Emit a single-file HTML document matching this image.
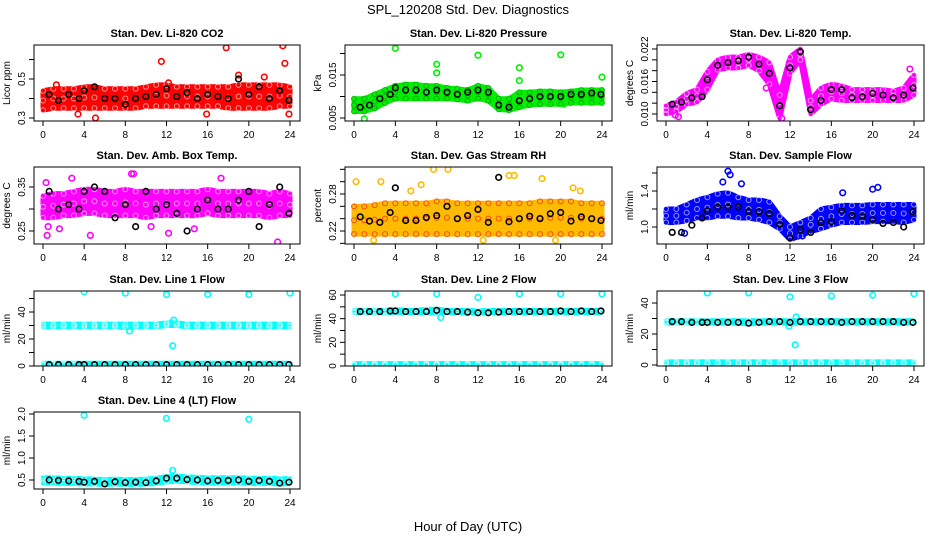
<!DOCTYPE html>
<html><head><meta charset="utf-8">
<style>
html,body{margin:0;padding:0;background:#fff;}
svg{display:block;font-family:"Liberation Sans",sans-serif;}
</style></head>
<body>
<svg id="chart" width="936" height="540" viewBox="0 0 936 540" xmlns="http://www.w3.org/2000/svg">
<text x="468" y="14" text-anchor="middle" font-size="13">SPL_120208  Std. Dev. Diagnostics</text>
<text x="468" y="531" text-anchor="middle" font-size="13">Hour of Day (UTC)</text>
</svg>
<script>
// shared hours
const bandHours = [0,1,2,3,4,5,6,7,8,9,10,11,12,13,14,15,16,17,18,19,20,21,22,23,24];
const blackHours = [0.6,1.5,2.5,3.5,4,5,6,7,8,9,10,11,12,13,14,15,16,17,18,19,20,21,22,23,23.9];
const xTicks = [0,4,8,12,16,20,24];

// CO2
const co2Lo = [.34,.35,.35,.35,.35,.35,.35,.35,.35,.35,.36,.36,.36,.36,.36,.36,.36,.36,.35,.35,.35,.35,.35,.36,.36];
const co2Hi = [.44,.45,.45,.45,.46,.46,.45,.45,.45,.45,.46,.47,.47,.46,.46,.46,.46,.46,.46,.47,.47,.47,.47,.47,.46];
const co2Black = [.42,.39,.42,.40,.44,.46,.40,.40,.37,.40,.41,.42,.45,.41,.43,.40,.42,.41,.40,.50,.42,.46,.40,.44,.39];
const co2OutX = [17.8,23.3,23.5,11.5,5.1,3.4,15.9,23.9,1.3,19,21.5,12.2];
const co2OutY = [.66,.67,.58,.59,.30,.32,.32,.32,.47,.52,.51,.48];
// Pressure
const presLo = [.0065,.0065,.0072,.0085,.0095,.0095,.0095,.0095,.0095,.0095,.0093,.009,.0095,.009,.007,.0068,.0075,.008,.0082,.0082,.0082,.0085,.0085,.0085,.0085];
const presHi = [.0095,.0095,.0105,.0115,.0125,.0128,.0128,.0125,.0125,.012,.0118,.0115,.0125,.012,.0095,.0095,.011,.011,.0112,.0112,.011,.0112,.0115,.0115,.0115];
const presBlack = [.0075,.008,.0095,.0105,.012,.0115,.0115,.011,.0115,.011,.0105,.011,.0115,.011,.008,.0075,.009,.0095,.010,.010,.010,.0105,.0105,.0108,.0105];
const presOutX = [4,8,8,12,20,16,1,24,16,20.3];
const presOutY = [.0212,.0175,.0155,.0196,.0197,.0167,.0048,.0145,.0137,.0082];
// Li-820 Temp
const tempLo = [.010,.0105,.0118,.0122,.0145,.0182,.0185,.0185,.019,.018,.0155,.0092,.0175,.020,.0100,.0118,.0128,.0125,.0125,.0125,.0125,.0125,.0125,.0125,.0135];
const tempHi = [.0115,.0122,.0138,.0145,.0178,.020,.0205,.0205,.021,.0205,.0195,.0135,.0205,.022,.0125,.0148,.0155,.0152,.0145,.0145,.0145,.0145,.0142,.0148,.0172];
const tempBlack = [.0118,.0122,.013,.0132,.0163,.019,.0195,.0198,.0205,.0192,.0175,.0115,.0185,.0215,.0108,.0125,.0145,.0145,.013,.0132,.0138,.0135,.013,.0135,.0148];
const tempOutX = [1.2,11.2,9.7,23.6,0.9];
const tempOutY = [.0095,.0092,.0148,.0183,.0098];
// Amb box temp
const ambLo = [.28,.28,.285,.285,.29,.29,.285,.285,.285,.285,.28,.285,.285,.285,.285,.285,.29,.285,.285,.285,.285,.285,.28,.285,.285];
const ambHi = [.33,.335,.335,.34,.345,.345,.34,.34,.345,.34,.34,.34,.34,.34,.34,.34,.345,.34,.34,.34,.34,.34,.335,.34,.335];
const ambBlack = [.34,.30,.31,.30,.34,.35,.34,.28,.31,.26,.34,.30,.31,.29,.25,.30,.32,.30,.30,.32,.34,.26,.31,.35,.29];
const ambOutX = [0.3,0.5,0.4,2.8,4.6,8.6,8.8,12.2,14.7,22.8,1.6,17.3,10.5];
const ambOutY = [.36,.26,.24,.37,.24,.38,.38,.245,.255,.225,.255,.37,.26];
// Gas stream RH
const rhLo = [.215,.215,.215,.215,.215,.215,.215,.215,.215,.215,.215,.215,.215,.215,.215,.215,.215,.215,.215,.215,.215,.215,.215,.215,.215];
const rhHi = [.26,.26,.262,.265,.265,.265,.265,.265,.268,.268,.265,.265,.265,.265,.265,.265,.265,.265,.268,.268,.268,.268,.265,.265,.265];
const rhBlack = [.243,.236,.234,.25,.29,.237,.237,.242,.245,.26,.24,.245,.255,.234,.307,.235,.24,.244,.24,.248,.25,.236,.243,.24,.237];
const rhOutX = [0.2,2.6,5.5,6.5,7.7,9.1,15,15.5,18.2,21.2,21.9,1.9,12.5,19.5];
const rhOutY = [.30,.30,.285,.295,.32,.32,.31,.31,.305,.29,.285,.205,.205,.205];
// Sample flow
const flowLo = [1.05,1.05,1.07,1.1,1.1,1.12,1.12,1.1,1.1,1.08,1.05,.98,.86,.9,.95,.98,1.02,1.05,1.05,1.05,1.06,1.06,1.06,1.05,1.08];
const flowHi = [1.2,1.2,1.25,1.3,1.33,1.37,1.38,1.33,1.3,1.3,1.28,1.12,1.0,1.05,1.1,1.2,1.22,1.24,1.24,1.24,1.25,1.25,1.25,1.25,1.25];
const flowBlack = [.94,.94,1.02,1.10,1.18,1.22,1.22,1.22,1.17,1.17,1.15,1.03,.88,.97,.94,1.05,1.06,1.18,1.13,1.12,1.08,1.04,1.05,1.00,1.17];
const flowOutX = [6,6.2,5.5,7.3,12.8,20,20.5,17.1,1.8,13.2];
const flowOutY = [1.62,1.58,1.5,1.48,.9,1.42,1.44,1.38,.93,.9];
// Line 1
const l1Lo = [29,29,29,29,29,29,29,29,28.5,29,29,29,30,30,29,29,29,29,29,29,29,29,29,29,29];
const l1Hi = [31,31,31,31,31,31,31,31,31,31,31,31,32,32,31,31,31,31,31,31,31,31,31,31,31];
const l1Black = [1,1,1,1,1,1,1,1,1,1,1,1,1,1,1,1,1,1,1,1,1,1,1,1,1];
const l1OutX = [4,8,12,16,20,24,12.6,12.7,8.4];
const l1OutY = [55,54,53,53,53,54,15,34,26];
// Line 2
const l2Lo = [45,45,45,45,45.5,45,45,45,45,45,45,45,44.5,45,45,45,45,45,45,45,45,45,45,45,45];
const l2Hi = [47,47,47,47,47.5,47,47,48,48,47,47,47,46.5,47,47,47,47,47,47,47,47,47,47,47,47];
const l2Black = [46,46,46,46.5,46.5,46,46,46,47,46,46,45.5,45,45,45.5,46,46,46,46,46,46.5,46,46.5,46,46.5];
const l2OutX = [4,8,12,16,20,24,8.4];
const l2OutY = [61,61,58,61,61,61,41];
// Line 3
const l3Lo = [27,27,27,27,27,27,27,27,26.5,27,27,27,27,27,27,27,27,27,27,27,27,27,27,27,27];
const l3Hi = [28.5,28.5,28.5,28.5,28.5,28.5,28.5,28.5,28.5,28.5,28.5,28.5,28.5,28.5,28.5,28.5,28.5,28.5,28.5,28.5,28.5,28.5,28.5,28.5,28.5];
const l3Black = [28,28,27.5,27.5,27.5,27.5,27.5,27.5,27,27.5,28,28,27.5,28,28,28,28,27.5,28,28,28,28,28,27.5,27.5];
const l3OutX = [4,8,12,16,20,24,12.5,12.6,11.9];
const l3OutY = [46.5,46.5,44,44.5,45,46,13,31,25];
// Line 4
const l4Lo = [.43,.43,.42,.42,.41,.41,.40,.41,.40,.40,.41,.42,.46,.47,.46,.44,.43,.43,.43,.43,.42,.42,.42,.41,.42];
const l4Hi = [.55,.55,.54,.54,.53,.52,.51,.52,.51,.51,.52,.54,.58,.59,.57,.56,.55,.55,.55,.55,.54,.54,.54,.53,.53];
const l4Black = [.5,.49,.48,.47,.45,.47,.41,.46,.44,.45,.44,.48,.54,.54,.51,.5,.48,.49,.49,.5,.47,.49,.47,.43,.45];
const l4OutX = [4,12,20,12.6];
const l4OutY = [1.97,1.9,1.88,.72];

const NS = "http://www.w3.org/2000/svg";
const svg = document.getElementById('chart');
function mk(tag, attrs, parent){const e=document.createElementNS(NS,tag);for(const k in attrs)e.setAttribute(k,attrs[k]);(parent||svg).appendChild(e);return e;}

const cols=[[34,300],[345,612],[657,924]];
const rows=[[45,121],[167,244],[291,366],[412,489]];

function panel(o){
  const [L,R]=cols[o.col],[T,B]=rows[o.row];
  const g=mk('g',{});
  
  
  const xs=h=>L+9+h*(R-L-19)/24;
  const ys=v=>o.p0+(v-o.v0)*(o.p1-o.p0)/(o.v1-o.v0);
  const cid='clip-'+o.name;
  const cp=mk('clipPath',{id:cid},g);mk('rect',{x:L,y:T,width:R-L,height:B-T},cp);
  const plot=mk('g',{'clip-path':'url(#'+cid+')'},g);
  function band(lo,hi,col){
    let pts=[];
    bandHours.forEach((h,i)=>pts.push(xs(h).toFixed(1)+','+ys(hi[i]).toFixed(1)));
    for(let i=bandHours.length-1;i>=0;i--)pts.push(xs(bandHours[i]).toFixed(1)+','+ys(lo[i]).toFixed(1));
    const p=mk('polygon',{points:pts.join(' '),fill:col,stroke:col,'stroke-width':5,'stroke-linejoin':'round'},plot);
    
    
    bandHours.forEach((h,i)=>{
      [lo[i],hi[i],(lo[i]+hi[i])/2].forEach(v=>{
        const c=mk('circle',{cx:xs(h),cy:ys(v),r:2.5,fill:'none',stroke:o.tex||'#fff','stroke-width':1,opacity:0.6},plot);
        
        
      });
    });
  }
  band(o.lo,o.hi,o.color);
  if(o.lo2) band(o.lo2,o.hi2,o.color);
  o.outX.forEach((h,i)=>{
    const c=mk('circle',{cx:xs(h),cy:ys(o.outY[i]),r:2.8,fill:'none',stroke:o.color,'stroke-width':1.6},plot);
    
    
  });
  blackHours.forEach((h,i)=>{
    const c=mk('circle',{cx:xs(h),cy:ys(o.black[i]),r:2.8,fill:'none',stroke:'#000','stroke-width':1.6},plot);
    
    
  });
  const box=mk('rect',{x:L,y:T,width:R-L,height:B-T,fill:'none',stroke:'#000','stroke-width':1},g);
  
  
  const t=mk('text',{x:(L+R)/2,y:T-8,'text-anchor':'middle','font-size':11,'font-weight':'bold'},g);
  t.textContent=o.title;
  
  
  // x axis
  mk('line',{x1:xs(0),x2:xs(24),y1:B,y2:B,stroke:'#000'},g);
  xTicks.forEach(h=>{
    mk('line',{x1:xs(h),x2:xs(h),y1:B,y2:B+5,stroke:'#000'},g);
    const tx=mk('text',{x:xs(h),y:B+17,'text-anchor':'middle','font-size':10},g);
    tx.textContent=h;
    
    
  });
  // y axis
  o.ticks.forEach(v=>{mk('line',{x1:L-5,x2:L,y1:ys(v),y2:ys(v),stroke:'#000'},g);});
  mk('line',{x1:L,x2:L,y1:ys(o.ticks[0]),y2:ys(o.ticks[o.ticks.length-1]),stroke:'#000'},g);
  o.labels.forEach((lab,i)=>{
    const y=ys(o.labelVals[i]);
    const tx=mk('text',{x:L-9,y:y,'text-anchor':'middle','font-size':10,transform:'rotate(-90 '+(L-9)+' '+y+')'},g);
    tx.textContent=lab;
    
    
  });
  const yl=mk('text',{x:L-24,y:(T+B)/2,'text-anchor':'middle','font-size':10,transform:'rotate(-90 '+(L-24)+' '+((T+B)/2)+')'},g);
  yl.textContent=o.ylab;
  
  
}

panel({name:'panel-co2',title:'Stan. Dev. Li-820 CO2',ylab:'Licor ppm',col:0,row:0,v0:.3,p0:118,v1:.5,p1:79,color:'#ff0000',
  lo:co2Lo,hi:co2Hi,black:co2Black,outX:co2OutX,outY:co2OutY,ticks:[.3,.4,.5,.6],labels:['0.3','0.5'],labelVals:[.3,.5]});
panel({name:'panel-pressure',title:'Stan. Dev. Li-820 Pressure',ylab:'kPa',col:1,row:0,v0:.005,p0:118,v1:.015,p1:75,color:'#00ee00',tex:'#008800',
  lo:presLo,hi:presHi,black:presBlack,outX:presOutX,outY:presOutY,ticks:[.005,.01,.015,.02],labels:['0.005','0.015'],labelVals:[.005,.015]});
panel({name:'panel-li820-temp',title:'Stan. Dev. Li-820 Temp.',ylab:'degrees C',col:2,row:0,v0:.010,p0:114,v1:.022,p1:49,color:'#ff00ff',
  lo:tempLo,hi:tempHi,black:tempBlack,outX:tempOutX,outY:tempOutY,ticks:[.010,.012,.014,.016,.018,.020,.022],labels:['0.010','0.016','0.022'],labelVals:[.010,.016,.022]});
panel({name:'panel-amb-box-temp',title:'Stan. Dev. Amb. Box Temp.',ylab:'degrees C',col:0,row:1,v0:.25,p0:231,v1:.35,p1:187,color:'#ff00ff',
  lo:ambLo,hi:ambHi,black:ambBlack,outX:ambOutX,outY:ambOutY,ticks:[.25,.3,.35],labels:['0.25','0.35'],labelVals:[.25,.35]});
panel({name:'panel-gas-rh',title:'Stan. Dev. Gas Stream RH',ylab:'percent',col:1,row:1,v0:.22,p0:231,v1:.28,p1:194,color:'#ffbb00',tex:'#ff0000',
  lo:rhLo,hi:rhHi,black:rhBlack,outX:rhOutX,outY:rhOutY,ticks:[.20,.22,.24,.26,.28,.30,.32],labels:['0.22','0.28'],labelVals:[.22,.28]});
panel({name:'panel-sample-flow',title:'Stan. Dev. Sample Flow',ylab:'ml/min',col:2,row:1,v0:1.0,p0:227,v1:1.4,p1:191,color:'#0000ff',
  lo:flowLo,hi:flowHi,black:flowBlack,outX:flowOutX,outY:flowOutY,ticks:[1.0,1.2,1.4,1.6],labels:['1.0','1.4'],labelVals:[1.0,1.4]});
const lowLo=bandHours.map(()=>0.5), lowHi=bandHours.map(()=>2);
panel({name:'panel-line1-flow',title:'Stan. Dev. Line 1 Flow',ylab:'ml/min',col:0,row:2,v0:0,p0:366,v1:40,p1:312,color:'#00ffff',
  lo:l1Lo,hi:l1Hi,lo2:lowLo,hi2:lowHi,black:l1Black,outX:l1OutX,outY:l1OutY,ticks:[0,10,20,30,40,50],labels:['0','20','40'],labelVals:[0,20,40]});
panel({name:'panel-line2-flow',title:'Stan. Dev. Line 2 Flow',ylab:'ml/min',col:1,row:2,v0:0,p0:366,v1:60,p1:295,color:'#00ffff',
  lo:l2Lo,hi:l2Hi,lo2:lowLo,hi2:lowHi,black:l2Black,outX:l2OutX,outY:l2OutY,ticks:[0,10,20,30,40,50,60],labels:['0','20','40','60'],labelVals:[0,20,40,60]});
panel({name:'panel-line3-flow',title:'Stan. Dev. Line 3 Flow',ylab:'ml/min',col:2,row:2,v0:0,p0:365,v1:40,p1:303,color:'#00ffff',
  lo:l3Lo,hi:l3Hi,lo2:lowLo,hi2:lowHi,black:l3Black,outX:l3OutX,outY:l3OutY,ticks:[0,10,20,30,40],labels:['0','20','40'],labelVals:[0,20,40]});
panel({name:'panel-line4-flow',title:'Stan. Dev. Line 4 (LT) Flow',ylab:'ml/min',col:0,row:3,v0:.5,p0:480,v1:2.0,p1:414,color:'#00ffff',
  lo:l4Lo,hi:l4Hi,black:l4Black,outX:l4OutX,outY:l4OutY,ticks:[.5,1,1.5,2],labels:['0.5','1.0','1.5','2.0'],labelVals:[.5,1,1.5,2]});
</script>
</body></html>
